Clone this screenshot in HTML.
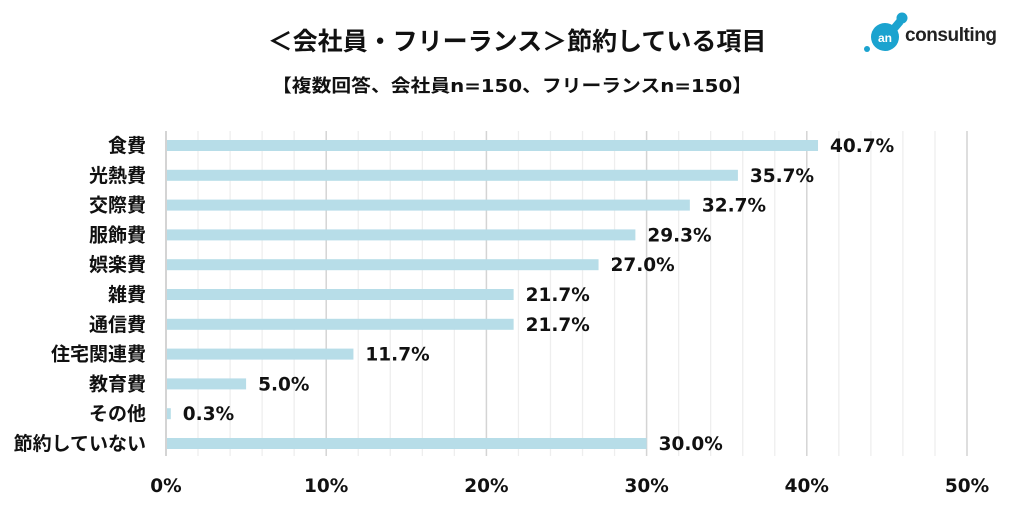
<!DOCTYPE html>
<html><head><meta charset="utf-8"><style>
body{margin:0;background:#fff;width:1014px;height:513px;overflow:hidden;font-family:"DejaVu Sans","Noto Sans CJK JP",sans-serif;}
</style></head><body>
<svg width="1014" height="513" font-family="DejaVu Sans, Noto Sans CJK JP, sans-serif">
<text x="517" y="50" text-anchor="middle" font-size="25" font-weight="bold" fill="#111">＜会社員・フリーランス＞節約している項目</text>
<text x="272" y="92" font-size="18" font-weight="bold" fill="#111" textLength="480" lengthAdjust="spacingAndGlyphs">【複数回答、会社員n=150、フリーランスn=150】</text>
<g>
<circle cx="885" cy="37" r="14" fill="#1ba3cf"/><circle cx="902" cy="18" r="5.5" fill="#1ba3cf"/><rect x="893" y="20" width="8" height="10" fill="#1ba3cf" transform="rotate(40 897 25)"/>
<circle cx="867" cy="49" r="3" fill="#1ba3cf"/>
<text x="885" y="42" text-anchor="middle" font-size="12" font-weight="bold" fill="#fff" font-family="Liberation Sans, sans-serif">an</text>
<text x="905" y="41" font-size="19" font-weight="bold" fill="#222" font-family="Liberation Sans, sans-serif" textLength="92">consulting</text>
</g>
<g id="grid"></g><g id="bars"></g>
</svg>
<script>
const categories=["食費","光熱費","交際費","服飾費","娯楽費","雑費","通信費","住宅関連費","教育費","その他","節約していない"];
const values=[40.7,35.7,32.7,29.3,27.0,21.7,21.7,11.7,5.0,0.3,30.0];
const ticks=[0,10,20,30,40,50];
const ns="http://www.w3.org/2000/svg";
const x=v=>166+v*16.02;
const y=i=>145.5+i*29.8;
function mk(t,a,p){const e=document.createElementNS(ns,t);for(const k in a)e.setAttribute(k,a[k]);p.appendChild(e);return e;}
const g=document.getElementById('grid'),b=document.getElementById('bars');
for(let v=0;v<=50;v+=2){
 const major=v%10===0;
 const l=mk('line',{x1:x(v),x2:x(v),y1:131,y2:456,stroke:major?'#d4d4d4':'#eeeeee','stroke-width':major?(v===0?2:1.5):1.3},g);
 
 
}
ticks.forEach(t=>{
 const e=mk('text',{x:x(t),y:492,'text-anchor':'middle','font-size':18.5,'font-weight':'bold',fill:'#111'},g);
 e.textContent=t+'%';
 
 
});
categories.forEach((c,i)=>{
 const r=mk('rect',{x:x(0)+1,y:y(i)-5.5,width:x(values[i])-x(0)-1,height:11,fill:'#b7dde8'},b);
 
 
 const l=mk('text',{x:146,y:y(i)+6.5,'text-anchor':'end','font-size':19,'font-weight':'bold',fill:'#111'},b);
 l.textContent=c;
 
 
 const v=mk('text',{x:x(values[i])+12,y:y(i)+6.5,'font-size':18.5,'font-weight':'bold',fill:'#111'},b);
 v.textContent=values[i].toFixed(1)+'%';
 
 
});
</script>
</body></html>
